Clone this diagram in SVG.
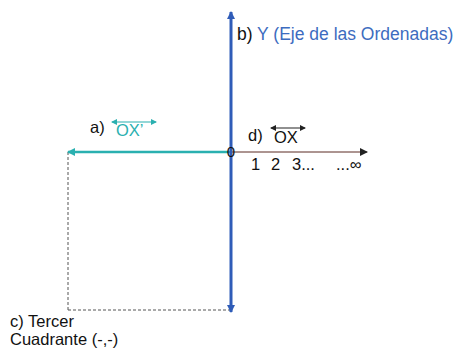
<svg xmlns="http://www.w3.org/2000/svg" width="454" height="349" viewBox="0 0 454 349">
<defs>
<style>
text{font-family:"Liberation Sans",Arial,sans-serif;font-size:16.5px;fill:#111}
.blue{fill:#3d6cc0}
.cyan{fill:#2ab0b0}
</style>
<marker id="ab" markerWidth="8" markerHeight="8" refX="7" refY="4" orient="auto" markerUnits="userSpaceOnUse"><path d="M0,0 L8,4 L0,8 Z" fill="#2f5cb8"/></marker>
<marker id="ac" markerWidth="8" markerHeight="8" refX="7" refY="4" orient="auto" markerUnits="userSpaceOnUse"><path d="M0,0 L8,4 L0,8 Z" fill="#2ab0b0"/></marker>
<marker id="ak" markerWidth="8" markerHeight="8" refX="7" refY="4" orient="auto" markerUnits="userSpaceOnUse"><path d="M0,0 L8,4 L0,8 Z" fill="#222"/></marker>
<marker id="sc" markerWidth="6" markerHeight="6" refX="5" refY="3" orient="auto-start-reverse" markerUnits="userSpaceOnUse"><path d="M0,0 L6,3 L0,6 Z" fill="#2ab0b0"/></marker>
<marker id="sk" markerWidth="6" markerHeight="6" refX="5" refY="3" orient="auto-start-reverse" markerUnits="userSpaceOnUse"><path d="M0,0 L6,3 L0,6 Z" fill="#222"/></marker>
</defs>
<g id="connectors">
<line x1="68" y1="152" x2="68" y2="310" stroke="#555" stroke-width="1" stroke-dasharray="3,2"/>
<line x1="68" y1="310" x2="231" y2="310" stroke="#555" stroke-width="1" stroke-dasharray="3,2"/>
<line x1="231" y1="152" x2="68" y2="152" stroke="#2ab0b0" stroke-width="2.5" marker-end="url(#ac)"/>
<line x1="231" y1="152" x2="367" y2="152" stroke="#5a2a22" stroke-width="1" marker-end="url(#ak)"/>
<line x1="231" y1="152" x2="231" y2="12" stroke="#2f5cb8" stroke-width="3" marker-end="url(#ab)"/>
<line x1="231" y1="152" x2="231" y2="312" stroke="#2f5cb8" stroke-width="3" marker-end="url(#ab)"/>
<line x1="112" y1="122" x2="156" y2="122" stroke="#2ab0b0" stroke-width="1.2" marker-start="url(#sc)" marker-end="url(#sc)"/>
<line x1="271" y1="128" x2="305" y2="128" stroke="#222" stroke-width="1.2" marker-start="url(#sk)" marker-end="url(#sk)"/>
</g>
<g id="origin"><text x="231" y="157" text-anchor="middle" style="font-size:15px">0</text></g>
<g id="label-b"><text x="237" y="40" style="font-size:17.5px">b) <tspan class="blue">Y (Eje de las Ordenadas)</tspan></text></g>
<g id="label-a"><text x="90" y="133">a)</text><text class="cyan" x="116" y="136">OX’</text></g>
<g id="label-d"><text x="248" y="141">d)</text><text x="274" y="143">OX</text></g>
<g id="numbers"><text x="251" y="170">1</text><text x="271" y="170">2</text><text x="292" y="170">3...</text><text x="336" y="170">...∞</text></g>
<g id="label-c"><text x="10" y="327">c) Tercer</text><text x="10" y="345">Cuadrante (-,-)</text></g>
</svg>
